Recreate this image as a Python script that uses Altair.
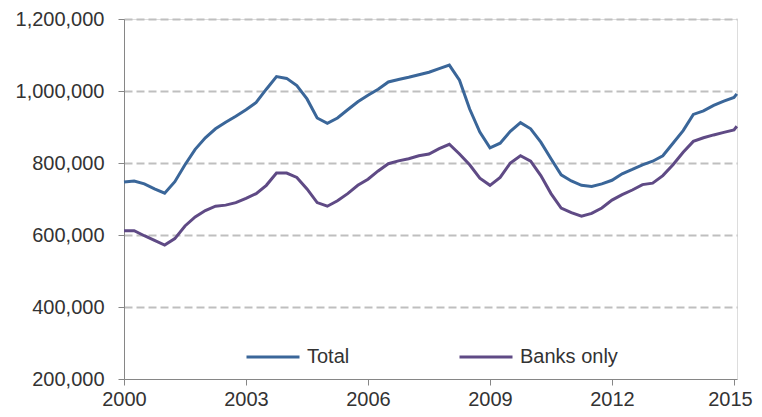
import altair as alt
import pandas as pd

years = [2000.00, 2000.25, 2000.50, 2000.75, 2001.00, 2001.25, 2001.50, 2001.75,
         2002.00, 2002.25, 2002.50, 2002.75, 2003.00, 2003.25, 2003.50, 2003.75,
         2004.00, 2004.25, 2004.50, 2004.75, 2005.00, 2005.25, 2005.50, 2005.75,
         2006.00, 2006.25, 2006.50, 2006.75, 2007.00, 2007.25, 2007.50, 2007.75,
         2008.00, 2008.25, 2008.50, 2008.75, 2009.00, 2009.25, 2009.50, 2009.75,
         2010.00, 2010.25, 2010.50, 2010.75, 2011.00, 2011.25, 2011.50, 2011.75,
         2012.00, 2012.25, 2012.50, 2012.75, 2013.00, 2013.25, 2013.50, 2013.75,
         2014.00, 2014.25, 2014.50, 2014.75, 2015.00, 2015.07]

total = [747, 750, 742, 728, 716, 748, 795, 838,
         870, 895, 913, 930, 948, 968, 1005, 1040,
         1035, 1015, 978, 925, 910, 925, 948, 970,
         988, 1005, 1025, 1032, 1038, 1045, 1052, 1062,
         1072, 1030, 950, 886, 842, 855, 888, 912,
         895, 858, 812, 767, 750, 738, 735, 742,
         752, 770, 782, 795, 805, 820, 855, 890,
         935, 945, 960, 972, 982, 992]

banks = [612, 612, 598, 585, 572, 590, 625, 650,
         668, 680, 683, 690, 702, 715, 738, 772,
         772, 760, 728, 690, 680, 695, 715, 738,
         755, 778, 798, 806, 812, 820, 825, 840,
         852, 825, 795, 758, 738, 760, 800, 820,
         805, 765, 715, 675, 662, 652, 660, 675,
         697, 712, 725, 740, 744, 765, 795, 830,
         860, 870, 878, 885, 892, 902]

series_names = ["Total", "Banks only"]
series_colors = ["#3A6699", "#5F4A85"]
x_ticks = [2000, 2003, 2006, 2009, 2012, 2015]
y_ticks = [200000, 400000, 600000, 800000, 1000000, 1200000]

rows = []
for yr, t, b in zip(years, total, banks):
    rows.append({"year": yr, "series": "Total", "value": t * 1000})
    rows.append({"year": yr, "series": "Banks only", "value": b * 1000})
df = pd.DataFrame(rows)

font = "Liberation Sans"
axis_color = "#868686"
label_color = "#333333"

chart = alt.Chart(df).mark_line(strokeWidth=3).encode(
    x=alt.X("year:Q",
            scale=alt.Scale(domain=[2000, 2015.074], nice=False, zero=False),
            axis=alt.Axis(values=x_ticks, format="d", title=None, grid=False,
                          domainColor=axis_color, tickColor=axis_color,
                          tickSize=6, labelPadding=4, labelFont=font,
                          labelFontSize=20, labelColor=label_color,
                          labelOffset={"condition": {"test": "datum.value === 2015", "value": -4}, "value": 0},
                          labelFlush=False)),
    y=alt.Y("value:Q",
            scale=alt.Scale(domain=[200000, 1200000], nice=False, zero=False),
            axis=alt.Axis(values=y_ticks, format=",.0f", title=None,
                          grid=True, gridColor="#BFBFBF", gridWidth=2,
                          gridDash=[8, 4],
                          gridOpacity={"condition": {"test": "datum.value === 200000", "value": 0}, "value": 1},
                          domainColor=axis_color, tickColor=axis_color,
                          tickSize=6, labelPadding=14, labelFont=font,
                          labelFontSize=20, labelColor=label_color)),
    color=alt.Color("series:N",
                    scale=alt.Scale(domain=series_names, range=series_colors),
                    sort=series_names,
                    legend=alt.Legend(title=None, orient="none", direction="horizontal",
                                      legendX=121, legendY=310,
                                      symbolType="stroke", symbolSize=2809,
                                      symbolStrokeWidth=3, labelOffset=6,
                                      columnPadding=103, padding=0,
                                      labelFont=font, labelFontSize=20,
                                      labelColor=label_color)),
    order="year:Q",
).properties(
    width=613, height=360,
    autosize=alt.AutoSizeParams(type="none"),
    padding={"left": 116, "top": 11, "right": 17, "bottom": 30},
).configure_view(stroke=None).configure(background="white")

chart.save("out.html", embed_options={"renderer": "svg", "actions": False})
